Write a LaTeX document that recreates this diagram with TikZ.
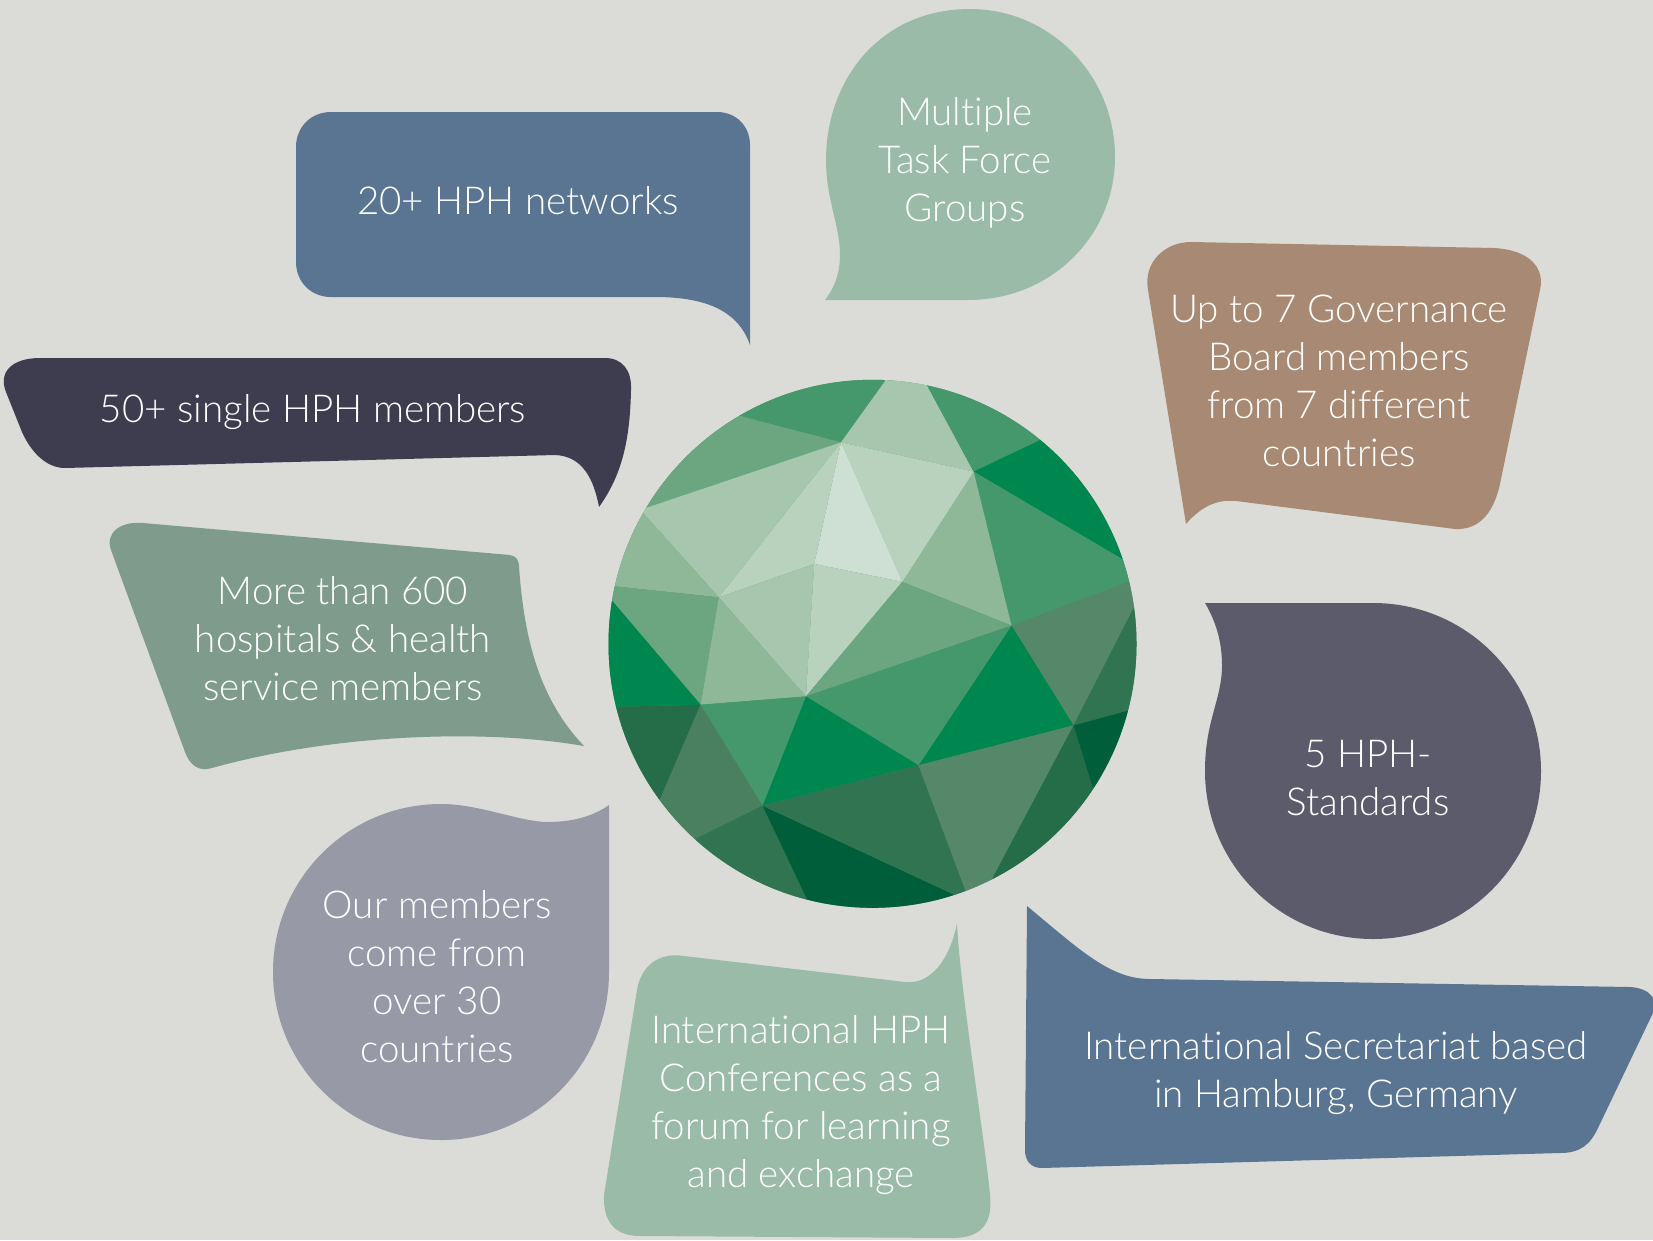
\documentclass[tikz,border=0pt]{standalone}
\usepackage{fontspec}
\IfFontExistsTF{Lato Light}
  {\setmainfont{Lato Light}[Ligatures=NoCommon]}
  {\setmainfont{Lato}[Ligatures=NoCommon]}
\usetikzlibrary{calc}
\definecolor{bg}{HTML}{DBDCD7}
\definecolor{bblue}{HTML}{5A7591}
\definecolor{bsage}{HTML}{99BBA7}
\definecolor{bdark}{HTML}{3D3D4F}
\definecolor{bgreen}{HTML}{7F9B8C}
\definecolor{bbrown}{HTML}{A88A74}
\definecolor{bslate}{HTML}{5C5B6C}
\definecolor{blav}{HTML}{9799A7}
\definecolor{ga}{HTML}{45986B}
\definecolor{gb}{HTML}{6BA680}
\definecolor{gc}{HTML}{A6C6AE}
\definecolor{gd}{HTML}{B9D2BE}
\definecolor{ge}{HTML}{CEE0D3}
\definecolor{gf}{HTML}{8FB898}
\definecolor{gg}{HTML}{00874F}
\definecolor{gh}{HTML}{558869}
\definecolor{gi}{HTML}{317452}
\definecolor{gj}{HTML}{246D48}
\definecolor{gk}{HTML}{4A8060}
\definecolor{gl}{HTML}{005F3A}
\begin{document}
\begin{tikzpicture}[x=1pt,y=-1pt,
  txt/.style={text=white, align=center, inner sep=0pt, font=\fontsize{38.5}{48}\selectfont}]
\useasboundingbox (0,0) rectangle (1653,1240);
\fill[bg] (0,0) rectangle (1653,1240);

% ---------- globe ----------
\coordinate (c) at (872.5,643.8);
\coordinate (A) at (841.0,442.3);
\coordinate (D) at (973.6,471.6);
\coordinate (H) at (1011.5,625.5);
\coordinate (J) at (1073.5,725.4);
\coordinate (P) at (918.5,765.3);
\coordinate (Q) at (805.9,696.4);
\coordinate (R) at (902.3,581.8);
\coordinate (S) at (814.2,563.9);
\coordinate (T) at (718.8,597.3);
\coordinate (U) at (700.6,704.7);
\coordinate (V) at (762.5,805.6);
% boundary points
\coordinate (B) at (885.1,381.0);
\coordinate (C) at (927.1,385.5);
\coordinate (E) at (1039.0,440.6);
\coordinate (F) at (1122.7,559.4);
\coordinate (G) at (1128.6,581.8);
\coordinate (I) at (1133.7,607.6);
\coordinate (K) at (1126.9,710.9);
\coordinate (L) at (1092.4,786.7);
\coordinate (M) at (992.6,877.9);
\coordinate (N) at (965.0,889.3);
\coordinate (O) at (953.0,894.1);
\coordinate (W) at (806.6,898.6);
\coordinate (X) at (696.4,838.3);
\coordinate (Y) at (660.3,798.7);
\coordinate (Z) at (616.5,706.8);
\coordinate (AA) at (612.1,600.7);
\coordinate (AB) at (614.5,586.3);
\coordinate (AC) at (643.0,512.9);
\coordinate (AD) at (646.5,507.7);
\coordinate (AE) at (739.5,415.8);
\foreach \p in {B,C,E,F,G,I,K,L,M,N,O,W,X,Y,Z,AA,AB,AC,AD,AE}
  \coordinate (\p o) at ($(c)!1.6!(\p)$);

\begin{scope}
\clip (c) circle (264pt);
\fill[ga] (c) circle (270pt);
\fill[ga] (A)--(AE)--(AEo)--(Bo)--(B)--cycle;
\fill[gb] (A)--(AD)--(ADo)--(AEo)--(AE)--cycle;
\fill[gc] (A)--(B)--(Bo)--(Co)--(C)--(D)--cycle;
\fill[ga] (D)--(C)--(Co)--(Eo)--(E)--cycle;
\fill[gg] (D)--(E)--(Eo)--(Fo)--(F)--cycle;
\fill[ga] (D)--(F)--(Fo)--(Go)--(G)--(H)--cycle;
\fill[gf] (D)--(H)--(R)--cycle;
\fill[gd] (A)--(D)--(R)--cycle;
\fill[ge] (A)--(R)--(S)--cycle;
\fill[gd] (A)--(S)--(T)--cycle;
\fill[gc] (A)--(T)--(AC)--(ACo)--(ADo)--(AD)--cycle;
\fill[gf] (T)--(AB)--(ABo)--(ACo)--(AC)--cycle;
\fill[gb] (T)--(U)--(AA)--(AAo)--(ABo)--(AB)--cycle;
\fill[gg] (U)--(Z)--(Zo)--(AAo)--(AA)--cycle;
\fill[gc] (T)--(S)--(Q)--cycle;
\fill[gd] (S)--(R)--(Q)--cycle;
\fill[gf] (T)--(Q)--(U)--cycle;
\fill[gb] (R)--(H)--(Q)--cycle;
\fill[gh] (H)--(G)--(Go)--(Io)--(I)--(J)--cycle;
\fill[gi] (J)--(I)--(Io)--(Ko)--(K)--cycle;
\fill[gg] (H)--(J)--(P)--cycle;
\fill[ga] (Q)--(H)--(P)--cycle;
\fill[gg] (Q)--(P)--(V)--cycle;
\fill[ga] (U)--(Q)--(V)--cycle;
\fill[gj] (U)--(Y)--(Yo)--(Zo)--(Z)--cycle;
\fill[gk] (U)--(V)--(X)--(Xo)--(Yo)--(Y)--cycle;
\fill[gi] (V)--(W)--(Wo)--(Xo)--(X)--cycle;
\fill[gl] (V)--(O)--(Oo)--(Wo)--(W)--cycle;
\fill[gi] (V)--(P)--(N)--(No)--(Oo)--(O)--cycle;
\fill[gh] (P)--(J)--(M)--(Mo)--(No)--(N)--cycle;
\fill[gj] (J)--(L)--(Lo)--(Mo)--(M)--cycle;
\fill[gl] (J)--(K)--(Ko)--(Lo)--(L)--cycle;
\end{scope}

% ---------- bubbles ----------
% 20+ HPH networks
\fill[bblue] (296,147) -- (296,262) .. controls (296,282) and (311,297) .. (331,297)
  -- (660,297) .. controls (705,298) and (738,310) .. (750,345)
  -- (750,145) .. controls (750,126) and (736,112) .. (717,112)
  -- (331,112) .. controls (311,112) and (296,127) .. (296,147) -- cycle;
% Multiple Task Force Groups
\fill[bsage] (825,300) -- (968,300) .. controls (1051,300) and (1115,236) .. (1115,157)
  .. controls (1115,75) and (1050,9) .. (970,9)
  .. controls (880,9) and (826,80) .. (826,160)
  .. controls (826,200) and (840,225) .. (840,255)
  .. controls (840,275) and (833,290) .. (825,300) -- cycle;
% 50+ single HPH members
\fill[bdark] (40,358) -- (605,358) .. controls (622,358) and (632,370) .. (631,390)
  .. controls (630,440) and (622,475) .. (599,507)
  .. controls (594,480) and (583,456) .. (555,455)
  -- (65,468) .. controls (45,468) and (30,450) .. (22,432)
  -- (6,392) .. controls (-2,372) and (12,358) .. (40,358) -- cycle;
% More than 600
\fill[bgreen] (143,523) -- (510,555) .. controls (516,556) and (519,560) .. (519,566)
  .. controls (524,640) and (540,700) .. (584,746)
  .. controls (480,728) and (330,735) .. (212,768)
  .. controls (198,772) and (190,765) .. (185,752)
  -- (111,550) .. controls (105,533) and (120,521) .. (143,523) -- cycle;
% Up to 7 Governance
\fill[bbrown] (1191,242) -- (1494,248) .. controls (1530,250) and (1545,268) .. (1540,290)
  -- (1500,484) .. controls (1493,515) and (1478,530) .. (1455,529)
  -- (1236,501) .. controls (1215,499) and (1200,508) .. (1186,524)
  -- (1148,290) .. controls (1143,262) and (1165,242) .. (1191,242) -- cycle;
% 5 HPH-Standards
\fill[bslate] (1205,603) -- (1373,603) .. controls (1466,603) and (1541,678) .. (1541,771)
  .. controls (1541,864) and (1466,939) .. (1373,939)
  .. controls (1280,939) and (1205,864) .. (1205,771)
  .. controls (1205,720) and (1222,700) .. (1222,665)
  .. controls (1222,640) and (1215,620) .. (1205,603) -- cycle;
% Our members
\fill[blav] (609,805) -- (609,972) .. controls (609,1065) and (534,1140) .. (441,1140)
  .. controls (348,1140) and (273,1065) .. (273,972)
  .. controls (273,879) and (348,804) .. (441,804)
  .. controls (480,804) and (520,822) .. (548,822)
  .. controls (575,822) and (595,815) .. (609,805) -- cycle;
% International HPH Conferences
\fill[bsage] (957,923) .. controls (960,990) and (985,1140) .. (990,1195)
  .. controls (993,1225) and (980,1237) .. (955,1238)
  -- (640,1236) .. controls (615,1236) and (603,1222) .. (604,1195)
  -- (637,990) .. controls (641,965) and (660,952) .. (684,956)
  -- (905,982) .. controls (930,985) and (950,960) .. (957,923) -- cycle;
% International Secretariat
\fill[bblue] (1027,906) .. controls (1080,950) and (1110,979) .. (1150,979)
  -- (1630,987) .. controls (1650,988) and (1660,1000) .. (1652,1015)
  -- (1598,1128) .. controls (1590,1145) and (1580,1153) .. (1560,1153)
  -- (1042,1168) .. controls (1030,1168) and (1025,1160) .. (1025,1150) -- cycle;

% ---------- texts ----------
\node[txt] (t1) at (518,201) {20+ HPH networks};
\node[txt] (t2) at (965,163) {Multiple\\Task Force\\Groups};
\node[txt] (t3) at (313,412) {50+ single HPH members};
\node[txt] (t4) at (343,639) {More than 600\\hospitals \& health\\service members};
\node[txt] (t5) at (1339,381) {Up to 7 Governance\\Board members\\from 7 different\\countries};
\node[txt] (t6) at (1368,778) {5 HPH-\\Standards};
\node[txt] (t7) at (437,977) {Our members\\come from\\over 30\\countries};
\node[txt] (t8) at (801,1105) {International HPH\\Conferences as a\\forum for learning\\and exchange};
\node[txt] (t9) at (1336,1073) {International Secretariat based\\in Hamburg, Germany};
\end{tikzpicture}
\end{document}
